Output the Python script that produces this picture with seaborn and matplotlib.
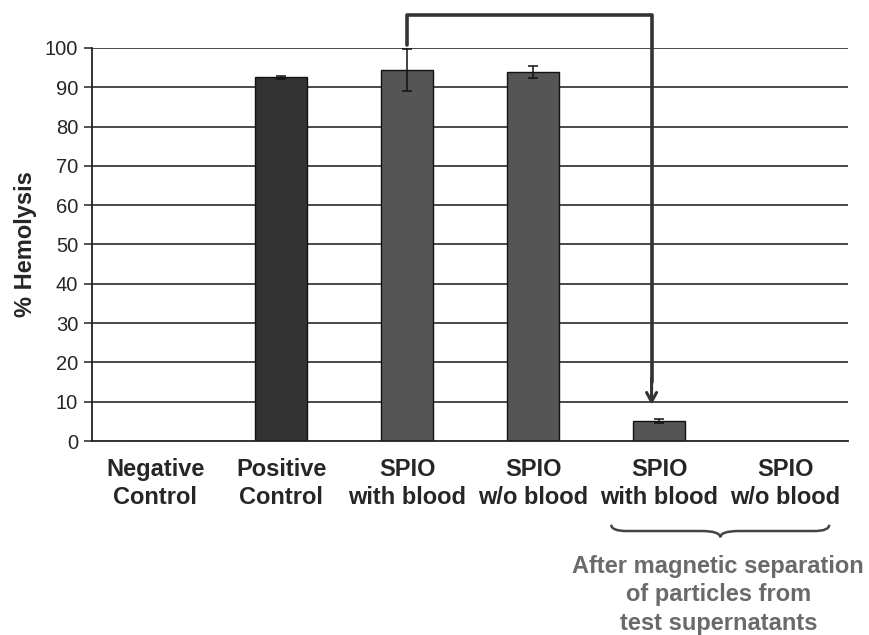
import numpy as np
import pandas as pd
import matplotlib
matplotlib.use("Agg")
import matplotlib.pyplot as plt
from matplotlib.path import Path
from matplotlib.patches import PathPatch
import matplotlib.transforms as mtransforms
import seaborn as sns

categories = ["Negative\nControl", "Positive\nControl", "SPIO\nwith blood",
              "SPIO\nw/o blood", "SPIO\nwith blood", "SPIO\nw/o blood"]
keys = ["neg", "pos", "spio_wb", "spio_wob", "sep_wb", "sep_wob"]
values = [0.0, 92.5, 94.4, 93.9, 5.1, 0.0]
errors = [0.0, 0.3, 5.3, 1.5, 0.5, 0.0]
colors = ["#555555", "#333333", "#555555", "#555555", "#555555", "#555555"]
yticks = [0, 10, 20, 30, 40, 50, 60, 70, 80, 90, 100]

sns.set_theme(style="white")
plt.rcParams['font.family'] = ['Liberation Sans', 'DejaVu Sans']

df = pd.DataFrame({"key": keys, "value": values})

fig = plt.figure(figsize=(8.69, 6.35), dpi=100)
ax = fig.add_axes([0.106, 0.3055, 0.870, 0.619])

for y in yticks[1:]:
    ax.axhline(y, color="#3a3a3a", lw=1.3, zorder=0)

sns.barplot(data=df, x="key", y="value", order=keys, hue="key", palette=colors,
            legend=False, width=0.41, edgecolor="#111111", linewidth=1.0,
            errorbar=None, ax=ax, zorder=2)

xs = np.arange(len(keys))
for x, v, e in zip(xs, values, errors):
    if e > 0:
        ax.errorbar(x, v, yerr=e, fmt="none", ecolor="#111111", elinewidth=1.1,
                    capsize=3.5, capthick=1.1, zorder=3)

ax.set_xlim(-0.5, 5.5)
ax.set_ylim(0, 100)
ax.set_yticks(yticks)
ax.set_yticklabels([str(t) for t in yticks], fontsize=14.5)
ax.set_xticks(xs)
ax.set_xticklabels(categories, fontsize=17, fontweight="bold", linespacing=1.32)
ax.tick_params(axis="x", which="major", length=0, pad=12)
ax.set_xticks(np.arange(0.5, 6.0, 1.0), minor=True)
ax.tick_params(axis="x", which="minor", length=5, width=1.1, color="#222222", direction="out")
ax.tick_params(axis="y", length=6, width=1.1, color="#222222", direction="out", left=True, pad=4)
ax.set_xlabel("")
ax.set_ylabel("% Hemolysis", fontsize=17, fontweight="bold", labelpad=6)

for s in ["top", "right"]:
    ax.spines[s].set_visible(False)
for s in ["left", "bottom"]:
    ax.spines[s].set_color("#222222")
    ax.spines[s].set_linewidth(1.3)

# connector bracket with arrow
ax.plot([2, 2, 3.94, 3.94], [100.8, 108.4, 108.4, 15], color="#333333", lw=2.6,
        clip_on=False, solid_joinstyle="round", zorder=4)
ax.annotate("", xy=(3.94, 9.2), xytext=(3.94, 16), xycoords="data",
            arrowprops=dict(arrowstyle="->,head_length=0.55,head_width=0.3",
                            color="#333333", lw=2.2, shrinkA=0, shrinkB=0),
            annotation_clip=False, zorder=4)

# curly brace below labels
trans = mtransforms.blended_transform_factory(ax.transData, ax.transAxes)
x0, x1 = 3.62, 5.35
xm = (x0 + x1) / 2
yt, ym, yb = -0.213, -0.229, -0.245
verts = [(x0, yt), (x0, ym), (x0 + 0.12, ym),
         (xm - 0.15, ym), (xm, ym), (xm, yb),
         (xm, ym), (xm + 0.15, ym),
         (x1 - 0.12, ym), (x1, ym), (x1, yt)]
codes = [Path.MOVETO, Path.CURVE3, Path.CURVE3,
         Path.LINETO, Path.CURVE3, Path.CURVE3,
         Path.CURVE3, Path.CURVE3,
         Path.LINETO, Path.CURVE3, Path.CURVE3]
brace = PathPatch(Path(verts, codes), transform=trans, fill=False,
                  edgecolor="#444444", lw=1.8, clip_on=False)
ax.add_patch(brace)

ax.text(4.47, -0.29, "After magnetic separation\nof particles from\ntest supernatants",
        transform=trans, ha="center", va="top", fontsize=17, fontweight="bold",
        color="#6a6a6a", linespacing=1.3)

fig.savefig("out.png", dpi=100)
